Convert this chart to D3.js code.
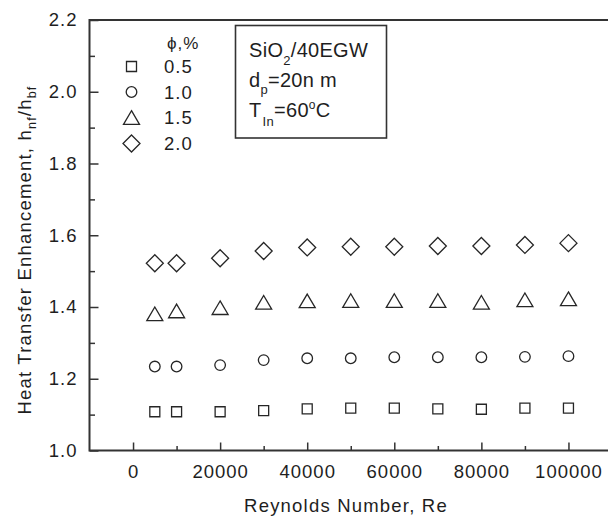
<!DOCTYPE html>
<html>
<head>
<meta charset="utf-8">
<script src="https://cdn.jsdelivr.net/npm/d3@7"></script>
<style>
  body { margin: 0; background: #fff; }
  svg text { font-family: "Liberation Sans", Arial, sans-serif; fill: #1e1e1e; }
</style>
</head>
<body>
<svg id="chart" width="608" height="523"></svg>
<script>
// Reynolds numbers at which the enhancement ratio was evaluated
const reynolds = [5000, 10000, 20000, 30000, 40000, 50000, 60000, 70000, 80000, 90000, 100000];

// h_nf / h_bf for each volume concentration (phi, %)
const phi05 = [1.108, 1.108, 1.108, 1.111, 1.116, 1.118, 1.118, 1.116, 1.115, 1.118, 1.118];
const phi10 = [1.234, 1.234, 1.238, 1.252, 1.257, 1.257, 1.260, 1.260, 1.260, 1.261, 1.263];
const phi15 = [1.381, 1.389, 1.398, 1.413, 1.417, 1.418, 1.418, 1.418, 1.413, 1.420, 1.423];
const phi20 = [1.522, 1.522, 1.536, 1.556, 1.566, 1.568, 1.568, 1.570, 1.570, 1.573, 1.578];

const phiLabels = ["0.5", "1.0", "1.5", "2.0"];
const markerShapes = ["square", "circle", "triangle", "diamond"];

const xMajorTicks = [0, 20000, 40000, 60000, 80000, 100000];
const xMinorTicks = [10000, 30000, 50000, 70000, 90000];
const yMajorTicks = [1.0, 1.2, 1.4, 1.6, 1.8, 2.0, 2.2];
const yMinorTicks = [1.1, 1.3, 1.5, 1.7, 1.9, 2.1];

const seriesList = [phi05, phi10, phi15, phi20].map((vals, i) => ({
  label: phiLabels[i],
  shape: markerShapes[i],
  points: reynolds.map((re, j) => ({ re, h: vals[j] }))
}));

const svg = d3.select("#chart");
const frame = { left: 89.5, right: 612, top: 20, bottom: 450.5 };

const x = d3.scaleLinear().domain([-10000, 110000]).range([frame.left, frame.right]);
const y = d3.scaleLinear().domain([1.0, 2.2]).range([frame.bottom, frame.top]);

const axisColor = "#333";
const tickFont = "18.5px";

// open-symbol path builders, centred on the bounding box
function markerPath(shape) {
  switch (shape) {
    case "square":   return "M-5,-5H5V5H-5Z";
    case "triangle": return "M0,-6.8L8,6.8L-8,6.8Z";
    case "diamond":  return "M0,-8.5L8.5,0L0,8.5L-8.5,0Z";
    default: return null;
  }
}
function drawMarker(sel, shape) {
  if (shape === "circle") {
    sel.append("circle").attr("r", 5.3);
  } else {
    sel.append("path").attr("d", markerPath(shape));
  }
  sel.selectAll("circle,path")
    .attr("fill", "none")
    .attr("stroke", "#262626")
    .attr("stroke-width", 1.3);
}

// axes: ticks point into the plot
svg.append("g").attr("transform", `translate(0,${frame.bottom})`)
  .call(d3.axisBottom(x).tickValues(xMajorTicks).tickSize(-8).tickPadding(14).tickFormat(d3.format("d")));
svg.append("g").attr("transform", `translate(0,${frame.bottom})`)
  .call(d3.axisBottom(x).tickValues(xMinorTicks).tickSize(-4.5).tickFormat(""));

svg.append("g").attr("transform", `translate(${frame.left},0)`)
  .call(d3.axisLeft(y).tickValues(yMajorTicks).tickSize(-9).tickPadding(12).tickFormat(d3.format(".1f")));
svg.append("g").attr("transform", `translate(${frame.left},0)`)
  .call(d3.axisLeft(y).tickValues(yMinorTicks).tickSize(-5.5).tickFormat(""));

svg.selectAll(".domain").remove();
svg.selectAll(".tick line").attr("stroke", axisColor).attr("stroke-width", 1.5);
svg.selectAll(".tick text")
  .attr("font-family", null)
  .style("font-size", tickFont)
  .style("letter-spacing", "1px")
  .attr("fill", "#1e1e1e");

// plot frame
svg.append("path")
  .attr("d", `M${frame.right},${frame.top}H${frame.left}V${frame.bottom}H${frame.right}`)
  .attr("fill", "none")
  .attr("stroke", axisColor)
  .attr("stroke-width", 2);

// data markers
const seriesG = svg.append("g");
seriesList.forEach(s => {
  seriesG.append("g").selectAll("g")
    .data(s.points)
    .join("g")
    .attr("transform", d => `translate(${x(d.re)},${y(d.h)})`)
    .each(function () { drawMarker(d3.select(this), s.shape); });
});

// legend
const legend = svg.append("g");
legend.append("text").attr("x", 167).attr("y", 48.5)
  .style("font-size", "17px").style("letter-spacing", "1px")
  .text("ϕ,%");
const legendRows = [66.5, 92, 117.5, 143.5];
seriesList.forEach((s, i) => {
  const row = legend.append("g").attr("transform", `translate(0,${legendRows[i]})`);
  drawMarker(row.append("g").attr("transform", "translate(131.5,0)"), s.shape);
  row.append("text").attr("x", 164).attr("y", 6.7)
    .style("font-size", tickFont).style("letter-spacing", "1px")
    .text(s.label);
});

// sample description box
const box = svg.append("g");
box.append("rect").attr("x", 235.5).attr("y", 25.5).attr("width", 151).attr("height", 112.5)
  .attr("fill", "#fff").attr("stroke", axisColor).attr("stroke-width", 1.6);

const boxText = box.append("g").style("font-size", "20px").style("letter-spacing", "0.3px");
const l1 = boxText.append("text").attr("x", 249).attr("y", 56.5);
l1.append("tspan").text("SiO");
l1.append("tspan").attr("dy", 8).style("font-size", "13px").text("2");
l1.append("tspan").attr("dy", -8).text("/40EGW");

const l2 = boxText.append("text").attr("x", 249).attr("y", 86.5);
l2.append("tspan").text("d");
l2.append("tspan").attr("dy", 7).style("font-size", "13px").text("p");
l2.append("tspan").attr("dy", -7).text("=20n m");

const l3 = boxText.append("text").attr("x", 249).attr("y", 116.5);
l3.append("tspan").text("T");
l3.append("tspan").attr("dy", 9).attr("dx", 1).style("font-size", "13px").text("In");
l3.append("tspan").attr("dy", -9).text("=60");
l3.append("tspan").attr("dy", -8).style("font-size", "12px").text("o");
l3.append("tspan").attr("dy", 8).text("C");

// axis titles
svg.append("text")
  .attr("x", 346).attr("y", 512)
  .attr("text-anchor", "middle")
  .style("font-size", tickFont).style("letter-spacing", "1.2px")
  .text("Reynolds Number, Re");

const yTitle = svg.append("text")
  .attr("transform", "translate(31,250) rotate(-90)")
  .attr("text-anchor", "middle")
  .style("font-size", tickFont).style("letter-spacing", "1.2px");
yTitle.append("tspan").text("Heat Transfer Enhancement, h");
yTitle.append("tspan").attr("dy", 5).style("font-size", "12.5px").text("nf");
yTitle.append("tspan").attr("dy", -5).text("/h");
yTitle.append("tspan").attr("dy", 5).style("font-size", "12.5px").text("bf");
</script>
</body>
</html>
